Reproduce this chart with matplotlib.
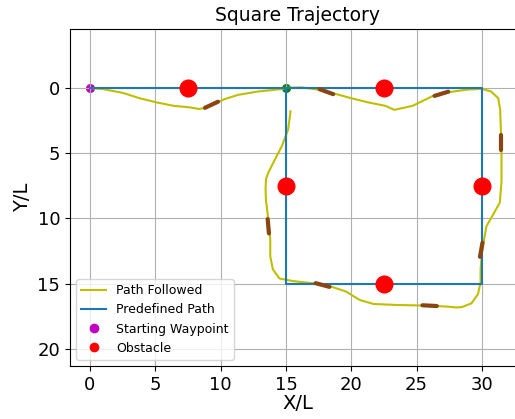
import matplotlib.pyplot as plt
from matplotlib.lines import Line2D
import numpy as np

# predefined square path (waypoints)
path_x = [0, 15, 30, 30, 15, 15]
path_y = [0, 0, 0, 15, 15, 0]

# obstacles
obs_x = [7.5, 22.5, 15, 30, 22.5]
obs_y = [0, 0, 7.5, 7.5, 15]

# path actually followed
fol_x = [0, 1.0, 2.55, 3.8, 5.1, 6.4, 7.65, 8.3, 8.8, 9.56, 10.3, 11.35, 12.9, 14.67,
         15.0, 16.2, 17.5, 18.4, 20.0, 21.3, 22.6, 23.3, 24.7, 26.3, 27.3, 28.8,
         29.97, 30.7, 31.25, 31.4, 31.45, 31.5, 31.5, 31.5, 31.37, 30.86, 30.35,
         30.17, 30.0, 29.9, 29.9, 29.7, 29.2, 28.5, 28.05, 27.3, 26.0, 23.5, 21.7,
         20.66, 19.6, 18.4, 17.35, 15.55, 14.5, 14.0, 13.8, 13.8, 13.65, 13.47,
         13.44, 13.47, 13.65, 14.0, 14.67, 15.17, 15.35]
fol_y = [0.02, 0.1, 0.4, 0.8, 1.12, 1.38, 1.5, 1.62, 1.56, 1.23, 0.87, 0.54, 0.28, 0.1,
         0.0, -0.03, 0.15, 0.36, 0.8, 1.12, 1.38, 1.69, 1.38, 0.6, 0.36, 0.15,
         0.08, 0.28, 0.8, 1.7, 3.2, 4.5, 5.8, 7.2, 8.8, 9.7, 10.6,
         11.6, 12.7, 13.9, 14.9, 15.8, 16.5, 16.78, 16.82, 16.75, 16.68, 16.63, 16.55,
         16.25, 15.6, 15.2, 15.0, 14.8, 14.6, 13.9, 12.9, 11.6, 10.1, 8.6,
         7.8, 7.0, 6.5, 5.8, 4.5, 3.2, 1.8]

# heading marks along the path: centre and angle (deg)
head_x = [9.3, 18.1, 26.9, 31.45, 29.95, 26.0, 17.8, 13.65]
head_y = [1.3, 0.3, 0.46, 4.2, 12.4, 16.68, 15.1, 10.6]
head_a = [-25, 20, -17, 90, 100, 3, 15, 85]
head_len = 1.1

fig = plt.figure(figsize=(5.15, 4.19), dpi=100)
ax = fig.add_axes([70 / 515, 53 / 419, 455 / 515, 337 / 419])

ax.plot(fol_x, fol_y, color='y', lw=1.5, label='Path Followed', zorder=2)
for hx, hy, ha in zip(head_x, head_y, head_a):
    dx = 0.5 * head_len * np.cos(np.radians(ha))
    dy = 0.5 * head_len * np.sin(np.radians(ha))
    ax.plot([hx - dx, hx + dx], [hy - dy, hy + dy], color='saddlebrown', lw=3,
            solid_capstyle='round', zorder=2.5)
ax.plot(path_x, path_y, color='tab:blue', lw=1.5, label='Predefined Path', zorder=2)
ax.scatter([0], [0], color='m', s=30, zorder=1)
ax.scatter([15], [0], color='green', s=30, zorder=1)
ax.plot(obs_x, obs_y, 'o', color='red', markersize=12, zorder=3)

ax.set_xlim(-1.53, 33.3)
ax.set_ylim(21.3, -4.5)
ax.set_xticks([0, 5, 10, 15, 20, 25, 30])
ax.set_yticks([0, 5, 10, 15, 20])
ax.tick_params(labelsize=13)
ax.grid(True)
ax.set_title('Square Trajectory', fontsize=13.5)
ax.set_xlabel('X/L', fontsize=14, labelpad=0)
ax.set_ylabel('Y/L', fontsize=14)

handles = [
    Line2D([], [], color='y', lw=1.5),
    Line2D([], [], color='tab:blue', lw=1.5),
    Line2D([], [], ls='', marker='o', color='m', markersize=6),
    Line2D([], [], ls='', marker='o', color='red', markersize=6),
]
labels = ['Path Followed', 'Predefined Path', 'Starting Waypoint', 'Obstacle']
ax.legend(handles, labels, loc='lower left', fontsize=9)

fig.savefig('out.png', dpi=100)
